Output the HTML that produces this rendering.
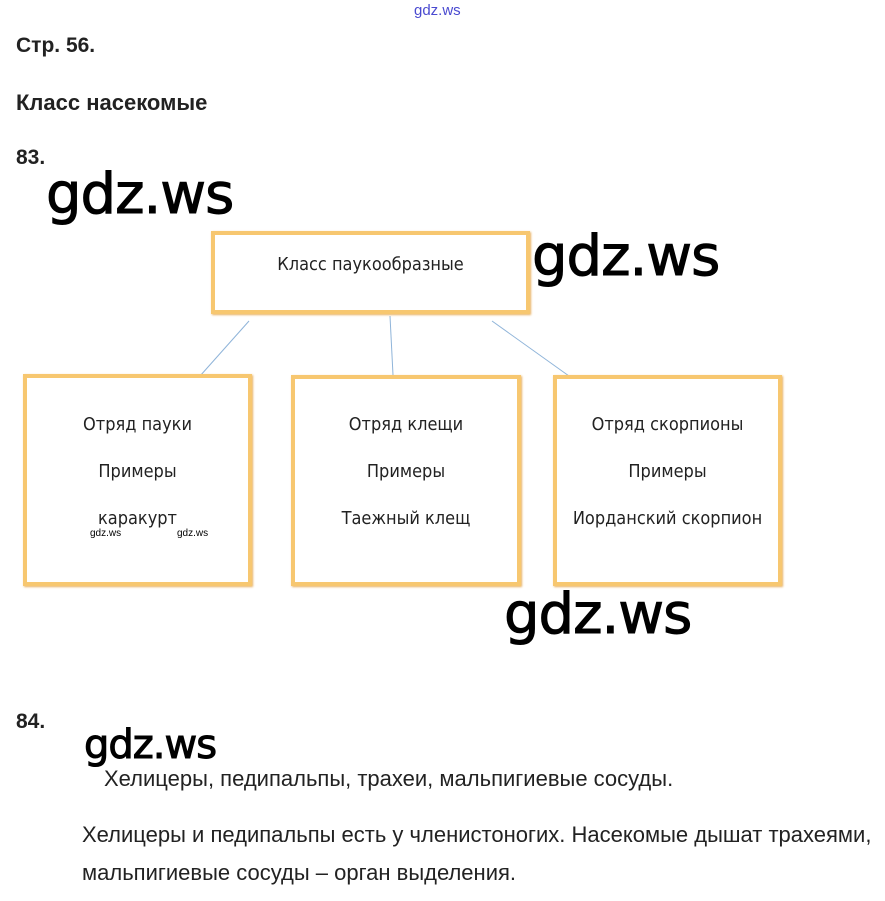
<!DOCTYPE html>
<html><head><meta charset="utf-8"><style>
body{margin:0;width:885px;height:901px;background:#fff;position:relative;overflow:hidden;font-family:"Liberation Sans",sans-serif;color:#222}
.a{position:absolute;white-space:nowrap}
.b{font-weight:bold;font-size:21px}
.box{position:absolute;border:4px solid #f7c770;box-sizing:border-box;box-shadow:1px 1px 2px #e8b060}
.t{position:absolute;font-family:"DejaVu Sans Condensed","DejaVu Sans",sans-serif;font-size:18px;color:#222;text-align:center;width:100%;left:0}
.wm{position:absolute;font-family:"DejaVu Sans",sans-serif;font-size:56px;color:#000;letter-spacing:-1px;-webkit-text-stroke:1px #000}
.p{font-size:22px}
</style></head><body>
<div class="a" style="left:414px;top:2px;font-size:15px;color:#4a4ad0">gdz.ws</div>
<div class="a b" style="left:16px;top:34px">Стр. 56.</div>
<div class="a b" style="left:16px;top:90px;font-size:22px">Класс насекомые</div>
<div class="a b" style="left:16px;top:146px">83.</div>
<div class="wm" style="left:46px;top:162px">gdz.ws</div>
<div class="wm" style="left:532px;top:224px">gdz.ws</div>
<div class="wm" style="left:504px;top:582px">gdz.ws</div>
<div class="wm" style="left:84px;top:722px;font-size:40px">gdz.ws</div>
<svg class="a" style="left:0;top:0" width="885" height="901">
<line x1="249" y1="321" x2="200" y2="376" stroke="#8fb4d9" stroke-width="1"/>
<line x1="390" y1="316" x2="393" y2="375" stroke="#8fb4d9" stroke-width="1"/>
<line x1="492" y1="321" x2="569" y2="376" stroke="#8fb4d9" stroke-width="1"/>
</svg>
<div class="box" style="left:211px;top:231px;width:319px;height:83px"><div class="t" style="top:19px">Класс паукообразные</div></div>
<div class="box" style="left:23px;top:374px;width:229px;height:212px">
<div class="t" style="top:36px">Отряд пауки</div><div class="t" style="top:83px">Примеры</div><div class="t" style="top:130px">каракурт</div>
<div class="a" style="left:63px;top:150px;font-size:10px;color:#000">gdz.ws</div><div class="a" style="left:150px;top:150px;font-size:10px;color:#000">gdz.ws</div></div>
<div class="box" style="left:291px;top:375px;width:230px;height:211px">
<div class="t" style="top:35px">Отряд клещи</div><div class="t" style="top:82px">Примеры</div><div class="t" style="top:129px">Таежный клещ</div></div>
<div class="box" style="left:553px;top:375px;width:229px;height:211px">
<div class="t" style="top:35px">Отряд скорпионы</div><div class="t" style="top:82px">Примеры</div><div class="t" style="top:129px">Иорданский скорпион</div></div>
<div class="a b" style="left:16px;top:710px">84.</div>
<div class="a p" style="left:104px;top:766px">Хелицеры, педипальпы, трахеи, мальпигиевые сосуды.</div>
<div class="a p" style="left:82px;top:822px">Хелицеры и педипальпы есть у членистоногих. Насекомые дышат трахеями,</div>
<div class="a p" style="left:82px;top:860px">мальпигиевые сосуды – орган выделения.</div>
</body></html>
